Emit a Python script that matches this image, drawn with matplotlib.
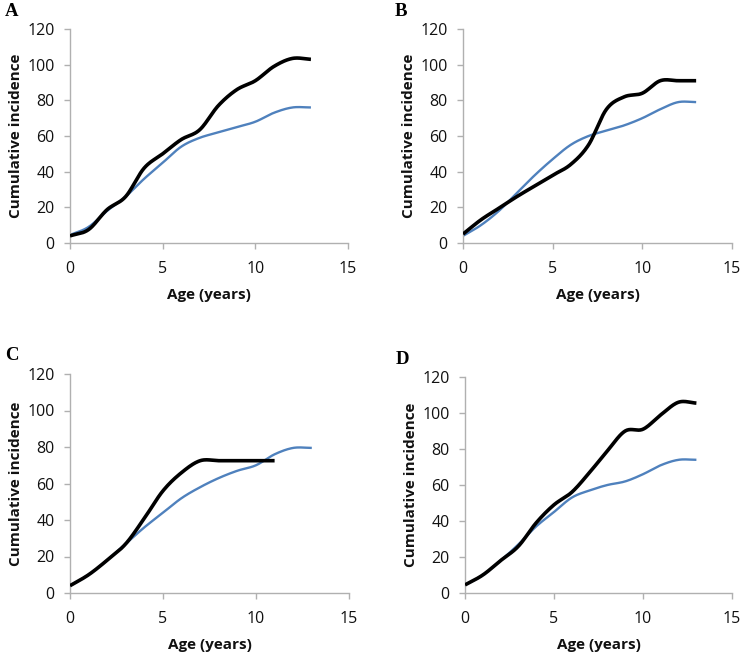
import numpy as np
import matplotlib
matplotlib.use("Agg")
import matplotlib.pyplot as plt

ages = list(range(14))

a_black = [4, 7.5, 18.7, 26, 42, 50, 58, 63.5, 77, 86, 91, 99, 103.5, 103]
a_blue = [4.5, 9, 18, 26, 36, 45, 54, 59, 62, 65, 68, 73, 76, 76]

b_black = [5, 13, 19.5, 26, 32, 38, 44, 55, 75, 82, 84, 91, 91, 91]
b_blue = [4, 10, 18, 28, 38, 47, 55, 60, 63, 66, 70, 75, 79, 79]

c_ages_black = list(range(12))
c_black = [4, 10, 18, 27, 41, 56, 66, 72.5, 72.5, 72.5, 72.5, 72.5]
c_blue = [4, 10, 18, 27, 36, 44, 52, 58, 63, 67, 70, 76, 79.5, 79.5]

d_black = [4.5, 10, 18, 26, 39, 49, 56, 67, 79, 90, 91, 99, 106, 105.5]
d_blue = [4.5, 10, 18, 27, 37, 45, 53, 57, 60, 62, 66, 71, 74, 74]

panel_letters = ["A", "B", "C", "D"]
xticks = [0, 5, 10, 15]
yticks = [0, 20, 40, 60, 80, 100, 120]
xlabel = "Age (years)"
ylabel = "Cumulative incidence"

BLACK = "#000000"
BLUE = "#4F81BD"
GRID = "#b0b0b0"
TEXT = "#111111"


def smooth(x, y, n=20):
    """Catmull-Rom spline through the points (like Excel smoothed lines)."""
    x = np.asarray(x, float)
    y = np.asarray(y, float)
    px = np.concatenate([[2 * x[0] - x[1]], x, [2 * x[-1] - x[-2]]])
    py = np.concatenate([[2 * y[0] - y[1]], y, [2 * y[-1] - y[-2]]])
    xs, ys = [], []
    t = np.linspace(0, 1, n, endpoint=False)
    for i in range(1, len(px) - 2):
        for arr, out in ((px, xs), (py, ys)):
            p0, p1, p2, p3 = arr[i - 1], arr[i], arr[i + 1], arr[i + 2]
            v = 0.5 * ((2 * p1) + (-p0 + p2) * t + (2 * p0 - 5 * p1 + 4 * p2 - p3) * t ** 2
                       + (-p0 + 3 * p1 - 3 * p2 + p3) * t ** 3)
            out.extend(v)
    xs.append(x[-1])
    ys.append(y[-1])
    return np.array(xs), np.array(ys)


W, H = 740, 653
fig = plt.figure(figsize=(W / 100, H / 100), dpi=100)

boxes = [
    (70, 29, 348, 243),
    (463, 29, 732, 243),
    (70, 374, 349, 593),
    (465, 377, 732, 593),
]
letter_pos = [(5, 12), (395, 11), (5, 356), (396, 360)]

series = [
    (ages, a_black, ages, a_blue),
    (ages, b_black, ages, b_blue),
    (c_ages_black, c_black, ages, c_blue),
    (ages, d_black, ages, d_blue),
]

tick_font = "Open Sans"

for (l, t, r, b), letter, lp, (xb, yb, xbl, ybl) in zip(boxes, panel_letters, letter_pos, series):
    ax = fig.add_axes([l / W, 1 - b / H, (r - l) / W, (b - t) / H])
    sx, sy = smooth(xbl, ybl)
    ax.plot(sx, sy, color=BLUE, lw=1.7, solid_capstyle="butt", zorder=2)
    sx, sy = smooth(xb, yb)
    ax.plot(sx, sy, color=BLACK, lw=2.6, solid_capstyle="butt", zorder=3)
    ax.set_xlim(0, 15)
    ax.set_ylim(0, 120)
    ax.set_xticks(xticks)
    ax.set_yticks(yticks)
    for s in ("top", "right"):
        ax.spines[s].set_visible(False)
    for s in ("left", "bottom"):
        ax.spines[s].set_color(GRID)
        ax.spines[s].set_linewidth(1.0)
    ax.tick_params(axis="both", direction="out", length=4, width=1.0, color=GRID,
                   labelsize=11.5, labelcolor=TEXT)
    ax.tick_params(axis="x", pad=9)
    ax.tick_params(axis="y", pad=7)
    for lab in ax.get_xticklabels() + ax.get_yticklabels():
        lab.set_fontfamily(tick_font)
    ax.set_xlabel(xlabel, fontsize=11, fontweight="bold", fontfamily=tick_font,
                  labelpad=8, color=TEXT)
    ax.set_ylabel(ylabel, fontsize=11, fontweight="bold", fontfamily=tick_font,
                  labelpad=3, color=TEXT)
    fig.text(lp[0] / W, 1 - lp[1] / H, letter, fontsize=13.5, fontweight="bold",
             fontfamily="Liberation Serif", ha="left", va="center")

fig.savefig("out.png", dpi=100, facecolor="white")
